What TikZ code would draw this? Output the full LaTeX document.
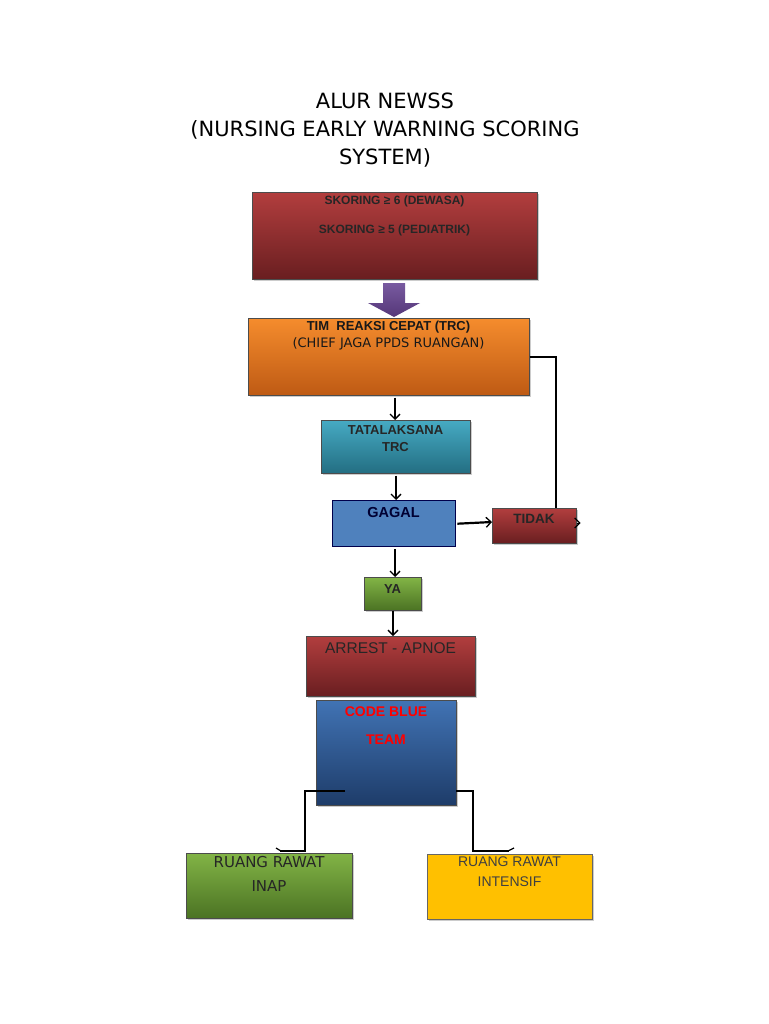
\documentclass[tikz,border=0pt]{standalone}
\usepackage{fontspec}
\setmainfont{Liberation Sans}
\newfontfamily\dejavu{DejaVu Sans}
\usetikzlibrary{arrows.meta,shadows}
\definecolor{rtop}{RGB}{178,62,62}
\definecolor{rbot}{RGB}{105,30,32}
\definecolor{otop}{RGB}{245,140,45}
\definecolor{obot}{RGB}{190,90,20}
\definecolor{ttop}{RGB}{70,170,195}
\definecolor{tbot}{RGB}{35,110,130}
\definecolor{gtop}{RGB}{130,180,70}
\definecolor{gbot}{RGB}{75,115,35}
\definecolor{btop}{RGB}{65,115,180}
\definecolor{bbot}{RGB}{30,60,105}
\begin{document}
\begin{tikzpicture}[x=1pt,y=-1pt,
  box/.style={draw=black!70,line width=0.6pt,shade,top color=#1top,bottom color=#1bot,drop shadow={shadow xshift=1.5pt,shadow yshift=-1.5pt,opacity=0.4},anchor=north west,inner sep=0},
  lab/.style={anchor=north,align=center,inner sep=0pt},
  conn/.style={line width=2.2pt,-{Straight Barb[length=5pt,width=10pt,line width=1.3pt]}},
  line/.style={line width=2.2pt}]
\useasboundingbox (0,0) rectangle (768,1024);
\fill[white] (0,0) rectangle (768,1024);
% title
\node[anchor=north,align=center,font=\dejavu\fontsize{21}{28}\selectfont] (title) at (385,89) {ALUR NEWSS\\(NURSING EARLY WARNING SCORING\\SYSTEM)};
% boxes
\node[box=r,minimum width=285,minimum height=87] (skor) at (252,192) {};
\node[lab,font=\bfseries\fontsize{12}{29}\selectfont,text=black!85] at (394.5,196) {SKORING ≥ 6 (DEWASA)\\SKORING ≥ 5 (PEDIATRIK)};
\node[box=o,minimum width=281,minimum height=77] (trc) at (248,318) {};
\node[lab,font=\bfseries\fontsize{13}{17}\selectfont,text=black!90] at (388.5,321) {TIM\ \ REAKSI CEPAT (TRC)\\{\dejavu\mdseries (CHIEF\ JAGA PPDS RUANGAN)}};
\node[box=t,minimum width=149,minimum height=53] (tata) at (321,420) {};
\node[lab,font=\bfseries\fontsize{13}{17}\selectfont,text=black!85] at (395.5,425) {TATALAKSANA\\TRC};
\node[draw=blue!30!black,line width=1.4pt,fill={rgb,255:red,79;green,129;blue,189},minimum width=123,minimum height=46,anchor=north west,inner sep=0] (gagal) at (332,500) {};
\node[lab,font=\bfseries\fontsize{14.5}{16}\selectfont,text=black!80!blue] at (393.5,507) {GAGAL};
\node[box=r,minimum width=84,minimum height=35] (tidak) at (492,508) {};
\node[lab,font=\bfseries\fontsize{13.5}{15}\selectfont,text=black!85] at (534,514) {TIDAK};
\node[box=g,minimum width=57,minimum height=33] (ya) at (364,577) {};
\node[lab,font=\bfseries\fontsize{13}{15}\selectfont,text=black!85] at (392.5,584) {YA};
\node[box=r,minimum width=169,minimum height=60] (arrest) at (306,636) {};
\node[lab,font=\fontsize{15.5}{18}\selectfont,text=black!85] at (390.5,642) {ARREST - APNOE};
\node[box=b,minimum width=140,minimum height=105] (code) at (316,700) {};
\node[lab,font=\bfseries\fontsize{14}{28}\selectfont,text=red] at (386,707) {CODE BLUE\\TEAM};
\node[box=g,minimum width=166,minimum height=65] (inap) at (186,853) {};
\node[lab,font=\dejavu\fontsize{15}{24}\selectfont,text=black!85] at (269,856) {RUANG\ RAWAT\\INAP};
\node[draw=black!60,fill={rgb,255:red,255;green,192;blue,0},drop shadow={shadow xshift=1.5pt,shadow yshift=-1.5pt,opacity=0.4},minimum width=165,minimum height=65,anchor=north west,inner sep=0] (intensif) at (427,854) {};
\node[lab,font=\fontsize{14}{20}\selectfont,text=black!75] at (509.5,857) {RUANG RAWAT\\INTENSIF};
% purple block arrow
\shade[top color={rgb,255:red,120;green,90;blue,160},bottom color={rgb,255:red,85;green,55;blue,120}] (383,283) -- (405,283) -- (405,303) -- (420,303) -- (394,317) -- (368,303) -- (383,303) -- cycle;
% connectors
\draw[conn] (trc.south -| 395,0) ++(0,2) -- (tata.north -| 395,0);
\draw[conn] (tata.south -| 396,0) ++(0,2) -- (gagal.north -| 396,0);
\draw[conn] (gagal.east) ++(1,0) -- (tidak.west |- 0,522);
\draw[line] (trc.east |- 0,357) -- (556,357) -- (tidak.north -| 556,0);
\draw[conn,line width=1pt] (tidak.east |- 0,523) -- ++(4,0);
\draw[conn] (gagal.south -| 395,0) ++(0,2) -- (ya.north -| 395,0);
\draw[conn] (ya.south -| 393,0) -- (arrest.north -| 393,0);
\coordinate (cl) at (345,791);
\coordinate (cr) at (456,791);
\draw[line] (cl) -- (305,791) -- (305,851) -- (280,851);
\draw[line width=1.2pt] (281,851) -- (276,848);
\draw[line] (cr) -- (473,791) -- (473,851) -- (509,851);
\draw[line width=1.2pt] (508,851) -- (514,848);
\end{tikzpicture}
\end{document}
